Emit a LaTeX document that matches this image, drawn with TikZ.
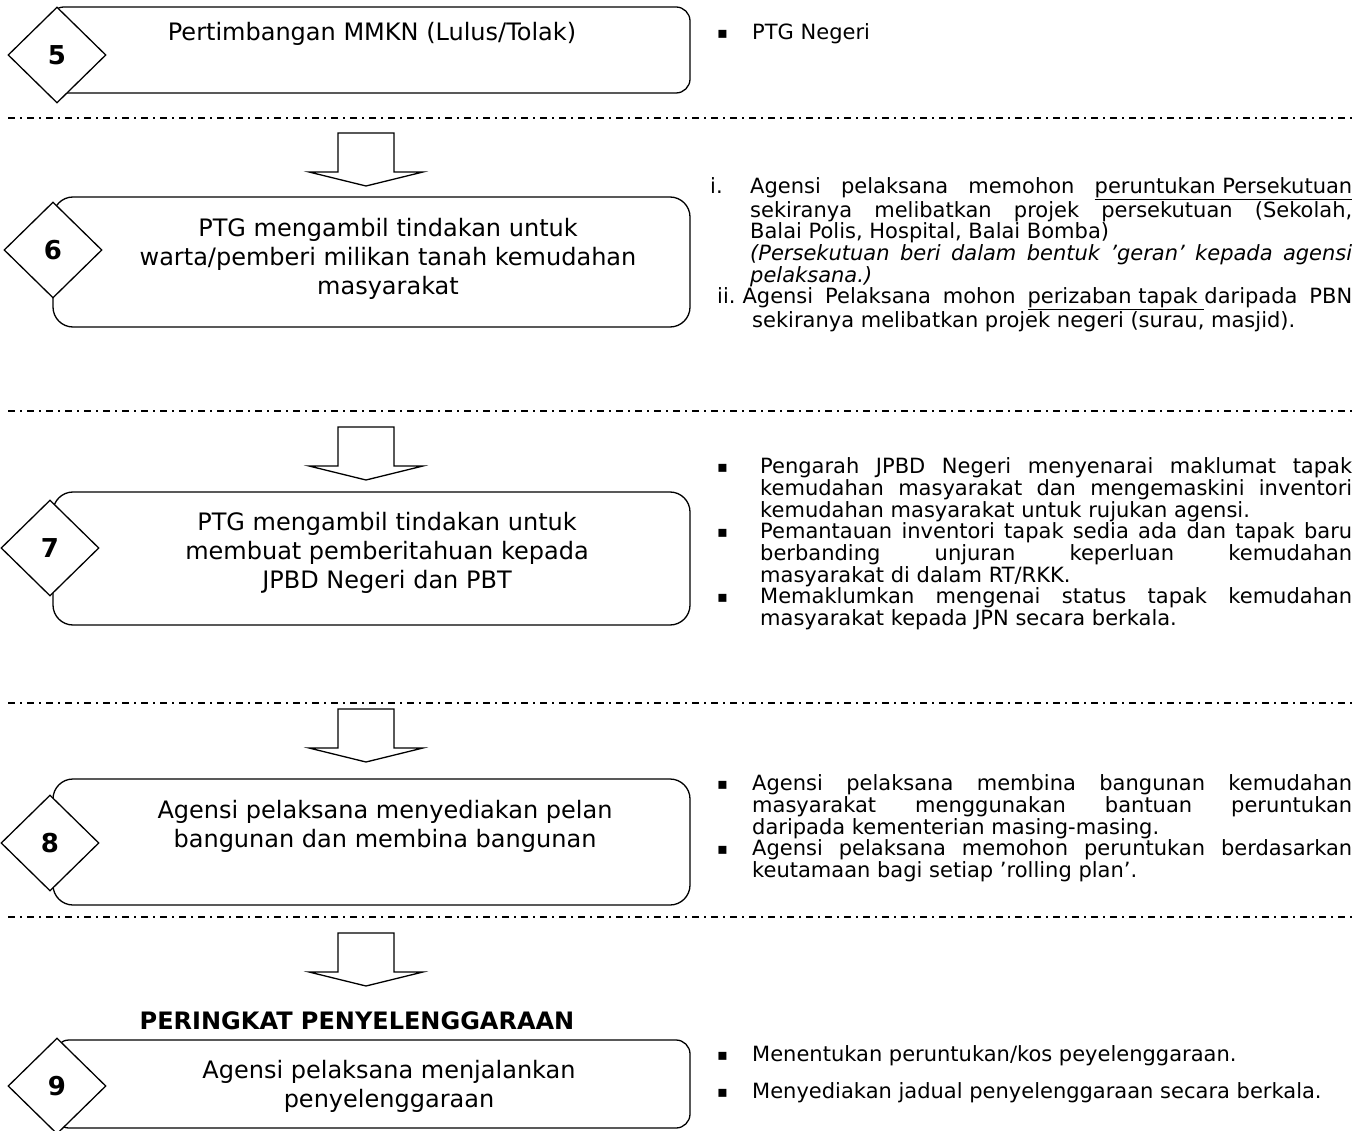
\documentclass[tikz,border=0pt]{standalone}
\usepackage{fontspec}
\setmainfont{DejaVu Sans}
\usetikzlibrary{shapes.geometric}

\newcommand{\bitem}[2][35pt]{\par\noindent\hangindent=#1\hangafter=1\makebox[#1][l]{\fontsize{16}{16}\selectfont\raisebox{1pt}{▪}}#2\par}

\begin{document}
\begin{tikzpicture}[x=1pt, y=-1pt,
    stepbox/.style={draw=black, line width=1.3pt, rounded corners=#1, inner sep=0pt},
    stepbox/.default=14pt,
    stepno/.style={shape=diamond, draw=black, fill=white, line width=1.3pt, aspect=1, inner sep=0pt,
        minimum width=98pt, minimum height=96pt, font=\fontsize{26}{30}\selectfont\bfseries},
    steptext/.style={align=center, inner sep=0pt, font=\fontsize{24}{29}\selectfont},
    notes/.style={anchor=base west, align=justify, inner sep=0pt, text width=#1,
        font=\fontsize{21}{21.7}\selectfont},
    divider/.style={line width=1.6pt, dash pattern=on 7pt off 5pt on 2pt off 5pt},
    blockarrow/.style={draw=black, line width=1.3pt, fill=white},
]
\clip (0,0) rectangle (1368,1131);
\useasboundingbox (0,0) rectangle (1368,1131);

% dividers and arrows between stages
\foreach \yy in {118,411,703,917}
    \draw[divider] (8,\yy) -- (1356,\yy);
\foreach \yy in {133,427,709,933}
    \draw[blockarrow] (338,\yy) -- (394,\yy) -- (394,\yy+39) -- (423,\yy+39)
        -- (366,\yy+53) -- (309,\yy+39) -- (338,\yy+39) -- cycle;

% stage boxes
\node[stepbox, minimum width=640pt, minimum height=86pt] (box5) at (370,50) {};
\node[stepbox=20pt, minimum width=637pt, minimum height=130pt] (box6) at (371.5,262) {};
\node[stepbox=20pt, minimum width=637pt, minimum height=133pt] (box7) at (371.5,558.5) {};
\node[stepbox=20pt, minimum width=637pt, minimum height=126pt] (box8) at (371.5,842) {};
\node[stepbox, minimum width=635pt, minimum height=88pt] (box9) at (372.5,1084) {};

\node[stepno] (d5) at (57,55) {5};
\node[stepno] (d6) at (53,250) {6};
\node[stepno] (d7) at (50,548) {7};
\node[stepno] (d8) at (50,843) {8};
\node[stepno] (d9) at (57,1086) {9};

\node[steptext] (t5) at (372,34) {Pertimbangan MMKN (Lulus/Tolak)};
\node[steptext] (t6) at (388,259) {PTG mengambil tindakan untuk\\ warta/pemberi milikan tanah kemudahan\\ masyarakat};
\node[steptext] (t7) at (387,553) {PTG mengambil tindakan untuk\\ membuat pemberitahuan kepada\\ JPBD Negeri dan PBT};
\node[steptext] (t8) at (385,826) {Agensi pelaksana menyediakan pelan\\ bangunan dan membina bangunan};
\node[steptext] (t9) at (389,1086) {Agensi pelaksana menjalankan\\ penyelenggaraan};
\node[inner sep=0pt, font=\fontsize{24}{29}\selectfont\bfseries] (stage) at (357,1021) {PERINGKAT PENYELENGGARAAN};

% notes on the right
\node[notes=635pt] (n5) at (717,18) {\bitem{PTG Negeri}};
\node[notes=642pt] (n6) at (710,172) {%
    \par\noindent\hangindent=40pt\hangafter=1\makebox[40pt][l]{i.}Agensi pelaksana memohon \underline{peruntukan Persekutuan}\linebreak
    sekiranya melibatkan projek persekutuan (Sekolah,\linebreak
    Balai Polis, Hospital, Balai Bomba)\\
    \textit{(Persekutuan beri dalam bentuk ’geran’ kepada agensi\linebreak
    pelaksana.)}\par
    \noindent\hangindent=42pt\hangafter=1\hspace*{7pt}\mbox{ii.\hspace{7pt}}Agensi Pelaksana mohon \underline{perizaban tapak\ }daripada PBN\linebreak
    sekiranya melibatkan projek negeri (surau, masjid).\par};
\node[notes=635pt] (n7) at (717,452) {%
    \bitem[43pt]{Pengarah JPBD Negeri menyenarai maklumat tapak\linebreak
    kemudahan masyarakat dan mengemaskini inventori\linebreak
    kemudahan masyarakat untuk rujukan agensi.}
    \bitem[43pt]{Pemantauan inventori tapak sedia ada dan tapak baru\linebreak
    berbanding unjuran keperluan kemudahan\linebreak
    masyarakat di dalam RT/RKK.}
    \bitem[43pt]{Memaklumkan mengenai status tapak kemudahan\linebreak
    masyarakat kepada JPN secara berkala.}};
\node[notes=635pt] (n8) at (717,769) {%
    \bitem{Agensi pelaksana membina bangunan kemudahan\linebreak
    masyarakat menggunakan bantuan peruntukan\linebreak
    daripada kementerian masing-masing.}
    \bitem{Agensi pelaksana memohon peruntukan berdasarkan\linebreak
    keutamaan bagi setiap ’rolling plan’.}};
\node[notes=635pt] (n9) at (717,1040) {%
    \bitem{Menentukan peruntukan/kos peyelenggaraan.}\vspace{15.3pt}
    \bitem{Menyediakan jadual penyelenggaraan secara berkala.}};
\end{tikzpicture}
\end{document}
